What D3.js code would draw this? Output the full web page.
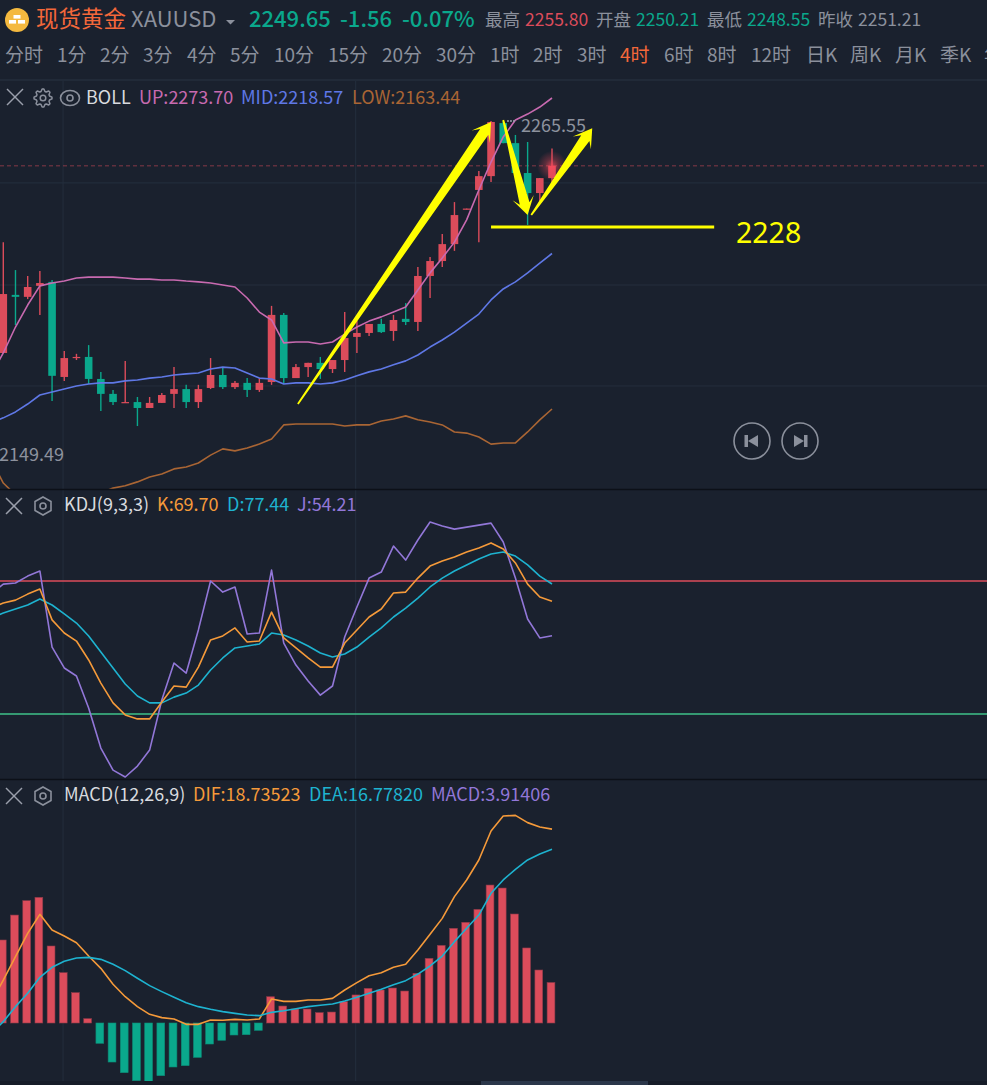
<!DOCTYPE html>
<html>
<head>
<meta charset="utf-8">
<script src="https://cdn.jsdelivr.net/npm/d3@7"></script>
<style>
  html, body { margin: 0; padding: 0; background: #1a212e; overflow: hidden; }
  svg { display: block; }
  text { font-family: "Noto Sans CJK SC", "Noto Sans", sans-serif; }
</style>
</head>
<body>
<div id="chart"></div>
<script>
// header
const name = "现货黄金";
const symbol = "XAUUSD";
const quote = ["2249.65", "-1.56", "-0.07%"];
const stats = [
  ["最高", "2255.80", "#dc4c5b"],
  ["开盘", "2250.21", "#0aa88c"],
  ["最低", "2248.55", "#0aa88c"],
  ["昨收", "2251.21", "#8b909c"],
];
const periods = ["分时", "1分", "2分", "3分", "4分", "5分", "10分", "15分", "20分", "30分", "1时", "2时", "3时", "4时", "6时", "8时", "12时", "日K", "周K", "月K", "季K", "年K"];
const activePeriod = "4时";

// 4h candles, the first one sits just off the left edge
const opens = [2178.0, 2183.3, 2203.9, 2203.2, 2207.1, 2208.5, 2174.8, 2181.5, 2181.9, 2174.1, 2168.8, 2165.6, 2165.9, 2163.8, 2165.6, 2168.8, 2170.5, 2165.9, 2170.9, 2175.5, 2171.2, 2172.7, 2170.2, 2173.0, 2196.8, 2174.4, 2178.3, 2179.8, 2177.6, 2180.8, 2189.0, 2190.4, 2193.6, 2191.1, 2195.4, 2194.3, 2210.6, 2215.9, 2221.9, 2234.2, 2241.1, 2246.0, 2264.8, 2257.7, 2247.1, 2240.0, 2245.3];
const closes = [2184.0, 2204.2, 2203.2, 2206.7, 2208.1, 2175.2, 2181.5, 2181.9, 2174.1, 2168.8, 2165.9, 2165.9, 2163.8, 2165.6, 2168.4, 2170.5, 2165.9, 2170.5, 2175.5, 2171.2, 2172.7, 2170.2, 2172.7, 2196.8, 2174.4, 2178.3, 2179.8, 2177.6, 2180.8, 2188.6, 2190.4, 2193.6, 2190.7, 2195.0, 2194.3, 2210.6, 2215.9, 2221.9, 2232.2, 2234.5, 2246.0, 2265.2, 2257.7, 2247.1, 2240.0, 2245.3, 2249.65];
const highs = [2186.0, 2222.6, 2212.7, 2210.6, 2212.4, 2209.2, 2184.0, 2183.0, 2186.1, 2176.6, 2170.2, 2180.5, 2167.7, 2167.7, 2169.1, 2178.3, 2172.0, 2172.0, 2181.5, 2178.0, 2173.4, 2174.4, 2174.4, 2200.0, 2197.5, 2179.4, 2179.8, 2181.9, 2180.8, 2197.8, 2194.6, 2193.6, 2195.4, 2196.8, 2201.0, 2213.8, 2217.3, 2225.5, 2236.8, 2234.5, 2247.8, 2265.55, 2265.55, 2260.6, 2258.1, 2245.3, 2255.8];
const lows = [2176.0, 2183.3, 2193.2, 2202.4, 2196.8, 2166.3, 2173.4, 2180.8, 2172.3, 2162.7, 2164.9, 2165.6, 2157.4, 2163.8, 2165.6, 2163.8, 2163.8, 2163.8, 2170.5, 2170.5, 2170.5, 2167.7, 2169.5, 2172.0, 2172.3, 2174.4, 2174.8, 2174.1, 2176.2, 2176.6, 2183.3, 2189.3, 2190.4, 2187.6, 2193.2, 2191.1, 2202.8, 2213.8, 2219.5, 2234.2, 2222.6, 2243.9, 2257.7, 2247.1, 2228.7, 2236.8, 2243.6];

// BOLL
const bollUp = [2175.5, 2183.3, 2192.5, 2200.3, 2207.1, 2208.1, 2208.8, 2209.9, 2210.2, 2210.2, 2210.2, 2209.9, 2209.5, 2209.5, 2209.2, 2209.2, 2208.8, 2208.5, 2208.1, 2207.4, 2206.7, 2202.8, 2197.8, 2195.0, 2186.9, 2187.2, 2187.2, 2186.5, 2187.2, 2190.0, 2192.5, 2194.6, 2196.1, 2197.8, 2199.6, 2205.6, 2211.7, 2217.0, 2222.6, 2230.5, 2241.1, 2251.0, 2259.9, 2265.9, 2268.0, 2270.5, 2273.70];
const bollMid = [2158.5, 2160.3, 2162.4, 2165.2, 2168.4, 2169.5, 2170.5, 2171.6, 2172.3, 2172.7, 2172.7, 2173.4, 2173.7, 2174.4, 2174.8, 2175.5, 2175.9, 2176.2, 2177.6, 2178.3, 2178.0, 2176.2, 2174.4, 2174.1, 2172.3, 2172.7, 2172.7, 2172.3, 2172.7, 2173.7, 2175.2, 2176.6, 2177.6, 2179.1, 2180.5, 2182.6, 2185.4, 2187.9, 2190.7, 2193.9, 2197.1, 2202.1, 2206.0, 2208.5, 2211.7, 2215.2, 2218.57];
const bollLow = [2145.4, 2137.2, 2133.0, 2131.2, 2129.4, 2128.4, 2129.4, 2130.5, 2131.9, 2133.7, 2135.4, 2136.2, 2137.6, 2139.3, 2140.4, 2142.2, 2142.9, 2144.3, 2147.1, 2149.3, 2148.6, 2149.6, 2151.0, 2152.8, 2157.8, 2158.1, 2158.1, 2158.1, 2158.1, 2157.4, 2157.8, 2157.8, 2159.2, 2159.9, 2161.0, 2159.6, 2158.8, 2157.8, 2155.3, 2154.9, 2153.5, 2151.0, 2151.4, 2151.4, 2155.3, 2159.6, 2163.44];
const priceGrid = [2243.6, 2207.4, 2171.6];
const lastPrice = 2249.65;
const highLabel = "2265.55";
const lowLabel = "2149.49";

// KDJ
const kdjK = [66.6, 68.9, 70.2, 72.9, 75.2, 61.3, 55.4, 51.8, 43.3, 32.9, 24.0, 18.6, 16.8, 16.8, 24.4, 31.6, 31.1, 40.1, 52.3, 54.1, 57.7, 51.4, 51.8, 64.8, 53.2, 48.7, 44.2, 40.1, 40.1, 50.9, 56.8, 62.6, 66.2, 73.4, 73.8, 80.1, 85.5, 87.8, 89.6, 91.8, 93.6, 95.9, 93.2, 86.9, 77.4, 71.6, 69.70];
const kdjD = [62.2, 64.4, 66.2, 68.0, 70.7, 68.0, 64.0, 59.9, 54.1, 46.9, 39.7, 32.5, 27.1, 24.0, 24.0, 26.6, 28.4, 32.0, 38.8, 44.2, 48.7, 49.6, 50.5, 55.4, 54.5, 52.3, 49.6, 46.4, 44.6, 46.0, 49.1, 53.6, 57.7, 62.6, 66.6, 71.1, 76.1, 80.1, 83.3, 86.0, 88.7, 90.9, 91.8, 90.0, 86.0, 81.0, 77.44];
const kdjJ = [72.9, 77.4, 77.9, 81.0, 83.3, 49.1, 39.7, 36.1, 21.7, 3.7, -6.2, -9.3, -4.4, 2.8, 25.3, 41.9, 37.4, 56.8, 78.8, 73.8, 76.1, 55.0, 55.4, 83.7, 50.9, 41.0, 33.8, 27.5, 31.6, 53.6, 67.1, 80.1, 82.8, 94.5, 88.2, 97.2, 105.3, 103.5, 102.1, 103.0, 103.9, 104.8, 96.3, 80.1, 61.7, 53.2, 54.21];
const kdjUpperGuide = 78.8;
const kdjLowerGuide = 19.0;

// MACD
const macdDif = [2.00, 4.15, 6.41, 8.66, 10.50, 8.99, 8.41, 7.76, 6.47, 5.28, 3.74, 2.54, 1.58, 0.84, 0.52, 0.39, -0.13, -0.13, 0.29, 0.26, 0.35, 0.29, 0.39, 2.32, 2.09, 2.09, 2.22, 2.22, 2.38, 3.19, 3.90, 4.57, 4.86, 5.38, 5.67, 7.05, 8.57, 10.11, 12.21, 13.82, 15.75, 18.55, 20.00, 20.06, 19.36, 18.94, 18.735];
const macdDea = [-1.00, 0.13, 1.58, 2.87, 4.41, 5.38, 5.96, 6.28, 6.34, 6.15, 5.67, 5.06, 4.32, 3.61, 3.03, 2.48, 1.96, 1.58, 1.32, 1.10, 0.93, 0.77, 0.71, 1.03, 1.19, 1.38, 1.58, 1.71, 1.84, 2.13, 2.48, 2.87, 3.25, 3.70, 4.09, 4.73, 5.51, 6.47, 7.86, 9.15, 10.43, 12.53, 13.82, 14.85, 15.75, 16.33, 16.778];
const macdHist = [6.00, 8.02, 10.43, 11.82, 12.14, 7.44, 4.86, 2.93, 0.42, -1.96, -3.77, -4.80, -5.57, -5.64, -5.09, -4.25, -4.12, -3.32, -2.03, -1.67, -1.16, -1.13, -0.71, 2.54, 1.64, 1.35, 1.35, 1.00, 1.06, 2.06, 2.71, 3.35, 3.19, 3.38, 3.09, 4.80, 6.25, 7.50, 9.15, 9.73, 10.98, 13.33, 13.04, 10.53, 7.25, 5.12, 3.914];

// hand drawn marks on the chart: [candle index, price] pairs
const arrowMarks = [
  [[25.16, 2165.2], [41.0, 2265.2]],
  [[42.0, 2265.9], [44.0, 2232.2]],
  [[44.3, 2232.2], [49.3, 2263.0]],
];
const supportLine = [[41.0, 2228.0], [59.3, 2228.0]];
const supportLabel = "2228";

const W = 987, H = 1085;
const RED = "#dc4c5b", GREEN = "#0aa88c", GRID = "#242e3d", BG = "#1a212e";
const ORANGE = "#f59a3a", CYAN = "#1eb3d0", PURPLE = "#9277d8";

const svg = d3.select("#chart").append("svg").attr("width", W).attr("height", H);

const x = d3.scaleLinear().domain([0, 46]).range([-8.9, 552]);
const yPrice = d3.scaleLinear().domain([2163.44, 2273.70]).range([409, 98]);
const yKdj = d3.scaleLinear().domain([0, 100]).range([756.3, 533.8]);
const yMacd = d3.scaleLinear().domain([0, 10]).range([1023, 919.5]);

svg.append("rect").attr("width", W).attr("height", H).attr("fill", BG);

// clip each panel so the lines stop at the divider
const defs = svg.append("defs");
defs.append("clipPath").attr("id", "clip-main").append("rect").attr("x", 0).attr("y", 81).attr("width", W).attr("height", 408);
const glow = defs.append("radialGradient").attr("id", "glow");
glow.append("stop").attr("offset", "0%").attr("stop-color", "#ff4a5c").attr("stop-opacity", 0.75);
glow.append("stop").attr("offset", "45%").attr("stop-color", "#ff4a5c").attr("stop-opacity", 0.3);
glow.append("stop").attr("offset", "100%").attr("stop-color", "#ff4a5c").attr("stop-opacity", 0);

function addText(str, px, py, size, fill, weight) {
  return svg.append("text").attr("x", px).attr("y", py).attr("font-size", size)
    .attr("fill", fill).attr("font-weight", weight || 400).text(str);
}

function drawLine(parent, values, scale, color, width) {
  const line = d3.line().x((d, i) => x(i)).y((d) => scale(d));
  parent.append("path").attr("d", line(values)).attr("fill", "none")
    .attr("stroke", color).attr("stroke-width", width || 1.6).attr("stroke-linejoin", "round");
}

// grid
svg.append("g").selectAll("line").data(priceGrid).enter().append("line")
  .attr("x1", 0).attr("x2", W).attr("y1", (d) => yPrice(d)).attr("y2", (d) => yPrice(d))
  .attr("stroke", GRID).attr("stroke-width", 1);
svg.append("g").selectAll("line").data([5.9, 29.9]).enter().append("line")
  .attr("x1", (d) => x(d)).attr("x2", (d) => x(d)).attr("y1", 81).attr("y2", 1081)
  .attr("stroke", GRID).attr("stroke-width", 1);

svg.append("line").attr("x1", 0).attr("x2", W).attr("y1", 80).attr("y2", 80).attr("stroke", GRID).attr("stroke-width", 1.5);

// main panel
const main = svg.append("g").attr("clip-path", "url(#clip-main)");
main.append("line").attr("x1", 0).attr("x2", W).attr("y1", yPrice(lastPrice)).attr("y2", yPrice(lastPrice))
  .attr("stroke", "#dc4c5b").attr("stroke-opacity", 0.55).attr("stroke-dasharray", "4,3");

const candles = opens.map((o, i) => ({ i, o, c: closes[i], h: highs[i], l: lows[i] }));
const candleColor = (d) => (d.c >= d.o ? RED : GREEN);
main.append("g").selectAll("line").data(candles).enter().append("line")
  .attr("x1", (d) => x(d.i)).attr("x2", (d) => x(d.i))
  .attr("y1", (d) => yPrice(d.h)).attr("y2", (d) => yPrice(d.l))
  .attr("stroke", candleColor).attr("stroke-width", 1.4);
main.append("g").selectAll("rect").data(candles).enter().append("rect")
  .attr("x", (d) => x(d.i) - 3.8).attr("width", 7.6)
  .attr("y", (d) => Math.min(yPrice(d.o), yPrice(d.c)))
  .attr("height", (d) => Math.max(1.2, Math.abs(yPrice(d.o) - yPrice(d.c))))
  .attr("fill", candleColor);

main.append("circle").attr("cx", x(46)).attr("cy", yPrice(lastPrice)).attr("r", 15).attr("fill", "url(#glow)");

drawLine(main, bollUp, yPrice, "#c86ab0");
drawLine(main, bollMid, yPrice, "#5f78e6");
drawLine(main, bollLow, yPrice, "#a96534");

// high / low labels
main.append("line").attr("x1", x(42) + 4).attr("x2", x(42) + 12)
  .attr("y1", yPrice(2265.55)).attr("y2", yPrice(2265.55))
  .attr("stroke", "#9aa0ac").attr("stroke-dasharray", "1.5,1.5").attr("stroke-width", 2);
addText(highLabel, 521, 132, 18, "#8d929e");
addText(lowLabel, -1, 461, 18, "#8d929e");

// yellow arrows, thin tail growing into the head
function arrowPath(mark) {
  const [a, b] = mark;
  const x0 = x(a[0]), y0 = yPrice(a[1]), x1 = x(b[0]), y1 = yPrice(b[1]);
  const len = Math.hypot(x1 - x0, y1 - y0);
  const ux = (x1 - x0) / len, uy = (y1 - y0) / len;
  const nx = -uy, ny = ux;
  const head = 18, neck = 12, sw = 5, hw = 11;
  const pt = (along, off) => [x0 + ux * along + nx * off, y0 + uy * along + ny * off];
  const pts = [pt(0, -0.9), pt(len - neck, -sw), pt(len - head, -hw), pt(len, 0), pt(len - head, hw), pt(len - neck, sw), pt(0, 0.9)];
  return "M" + pts.map((p) => p.join(",")).join("L") + "Z";
}
svg.append("g").selectAll("path").data(arrowMarks).enter().append("path")
  .attr("d", arrowPath).attr("fill", "#ffff00");
svg.append("line").attr("x1", x(supportLine[0][0])).attr("x2", x(supportLine[1][0]))
  .attr("y1", yPrice(supportLine[0][1])).attr("y2", yPrice(supportLine[1][1]))
  .attr("stroke", "#ffff00").attr("stroke-width", 3);
svg.append("text").attr("x", 736).attr("y", 243).attr("font-size", 28.5).attr("fill", "#ffff00")
  .style("font-family", "'Noto Sans'").text(supportLabel);

// prev / next buttons
[[752, -1], [800, 1]].forEach(([cx, dir]) => {
  const g = svg.append("g").attr("transform", `translate(${cx},441) scale(${dir},1)`);
  g.append("circle").attr("r", 18).attr("fill", "none").attr("stroke", "#8b909c").attr("stroke-width", 1.6);
  g.append("path").attr("d", "M-6,-6L4,0L-6,6Z").attr("fill", "#8b909c");
  g.append("rect").attr("x", 4).attr("y", -6).attr("width", 3.5).attr("height", 12).attr("fill", "#8b909c");
});

// KDJ panel
svg.append("line").attr("x1", 0).attr("x2", W).attr("y1", yKdj(kdjUpperGuide)).attr("y2", yKdj(kdjUpperGuide)).attr("stroke", RED).attr("stroke-width", 1.4);
svg.append("line").attr("x1", 0).attr("x2", W).attr("y1", yKdj(kdjLowerGuide)).attr("y2", yKdj(kdjLowerGuide)).attr("stroke", "#3fc28a").attr("stroke-width", 1.4);
drawLine(svg, kdjJ, yKdj, PURPLE);
drawLine(svg, kdjD, yKdj, CYAN);
drawLine(svg, kdjK, yKdj, ORANGE);

// MACD panel
svg.append("g").selectAll("rect").data(macdHist).enter().append("rect")
  .attr("x", (d, i) => x(i) - 4.9).attr("width", 7.8)
  .attr("y", (d) => Math.min(yMacd(d), yMacd(0)))
  .attr("height", (d) => Math.abs(yMacd(d) - yMacd(0)))
  .attr("fill", (d) => (d >= 0 ? RED : GREEN))
  .attr("stroke", (d) => (d >= 0 ? "#8c3a49" : "#0c8a76")).attr("stroke-width", 0.6);
drawLine(svg, macdDif, yMacd, ORANGE);
drawLine(svg, macdDea, yMacd, CYAN);

// dividers and scrollbar
[489.5, 779.5].forEach((py) => {
  svg.append("line").attr("x1", 0).attr("x2", W).attr("y1", py).attr("y2", py).attr("stroke", "#0c1018").attr("stroke-width", 1.6);
});
svg.append("rect").attr("x", 0).attr("y", 1081).attr("width", W).attr("height", 4).attr("fill", "#161c28");
svg.append("rect").attr("x", 481).attr("y", 1081).attr("width", 167).attr("height", 4).attr("fill", "#2b374a");

// header
const coin = svg.append("g").attr("transform", "translate(17,20)");
coin.append("circle").attr("r", 12).attr("fill", "#f4b93f");
coin.selectAll("rect").data([[-3.5, -5, 7, 3.6], [-8, 0, 7, 3.6], [1, 0, 7, 3.6]]).enter().append("rect")
  .attr("x", (d) => d[0]).attr("y", (d) => d[1]).attr("width", (d) => d[2]).attr("height", (d) => d[3]).attr("fill", "#fff");

addText(name, 36, 26.5, 22.5, "#f4683a");
addText(symbol, 131, 26.5, 22, "#8b909c");
svg.append("path").attr("d", "M226,20L235,20L230.5,24.5Z").attr("fill", "#8b909c");
[249, 340, 402].forEach((px, i) => addText(quote[i], px, 27, 22, GREEN, 500));

[485, 596, 707, 818].forEach((px, i) => {
  addText(stats[i][0], px, 25.5, 17.5, "#8b909c");
  addText(stats[i][1], px + 40, 25.5, 17.5, stats[i][2]);
});

const periodX = [5, 57, 100, 143, 187, 230, 274, 328, 382, 436, 490, 533, 577, 620, 664, 707, 751, 806, 850, 895, 940, 984];
periods.forEach((p, i) => {
  addText(p, periodX[i], 62, 19, p === activePeriod ? "#f4683a" : "#8b909c");
});

// indicator rows
function closeIcon(cx, cy) {
  const g = svg.append("g").attr("transform", `translate(${cx},${cy})`).attr("stroke", "#9a9fab").attr("stroke-width", 1.5);
  g.append("line").attr("x1", -8).attr("y1", -8).attr("x2", 8).attr("y2", 8);
  g.append("line").attr("x1", 8).attr("y1", -8).attr("x2", -8).attr("y2", 8);
}
function hexIcon(cx, cy) {
  const g = svg.append("g").attr("transform", `translate(${cx},${cy})`).attr("fill", "none").attr("stroke", "#8b909c").attr("stroke-width", 1.6);
  g.append("path").attr("d", "M0,-9L8,-4.5L8,4.5L0,9L-8,4.5L-8,-4.5Z");
  g.append("circle").attr("r", 3);
}
closeIcon(15, 97);
const gear = svg.append("g").attr("transform", "translate(43,98)").attr("fill", "none").attr("stroke", "#8b909c").attr("stroke-width", 1.5);
const gearPts = d3.range(32).map((k) => {
  const r = k % 4 < 2 ? 9 : 6.8;
  const a = (k - 0.5) * Math.PI / 16;
  return [r * Math.cos(a), r * Math.sin(a)];
});
gear.append("path").attr("d", "M" + gearPts.map((p) => p.join(",")).join("L") + "Z").attr("stroke-linejoin", "round");
gear.append("circle").attr("r", 2.8);
const eye = svg.append("g").attr("transform", "translate(70,98)").attr("fill", "none").attr("stroke", "#8b909c").attr("stroke-width", 1.6);
eye.append("ellipse").attr("rx", 9.5).attr("ry", 7.5);
eye.append("circle").attr("r", 3);

addText("BOLL", 86, 103.5, 18, "#d8dadf");
addText("UP:2273.70", 139, 103.5, 18, "#c86ab0");
addText("MID:2218.57", 241, 103.5, 18, "#5f78e6");
addText("LOW:2163.44", 352, 103.5, 18, "#a96534");

closeIcon(14, 506);
hexIcon(43, 506);
addText("KDJ(9,3,3)", 64, 511, 18, "#d8dadf");
addText("K:69.70", 157, 511, 18, ORANGE);
addText("D:77.44", 227, 511, 18, CYAN);
addText("J:54.21", 297, 511, 18, PURPLE);

closeIcon(14, 796);
hexIcon(43, 796);
addText("MACD(12,26,9)", 64, 801, 18, "#d8dadf");
addText("DIF:18.73523", 193, 801, 18, ORANGE);
addText("DEA:16.77820", 309, 801, 18, CYAN);
addText("MACD:3.91406", 431, 801, 18, PURPLE);
</script>
</body>
</html>
